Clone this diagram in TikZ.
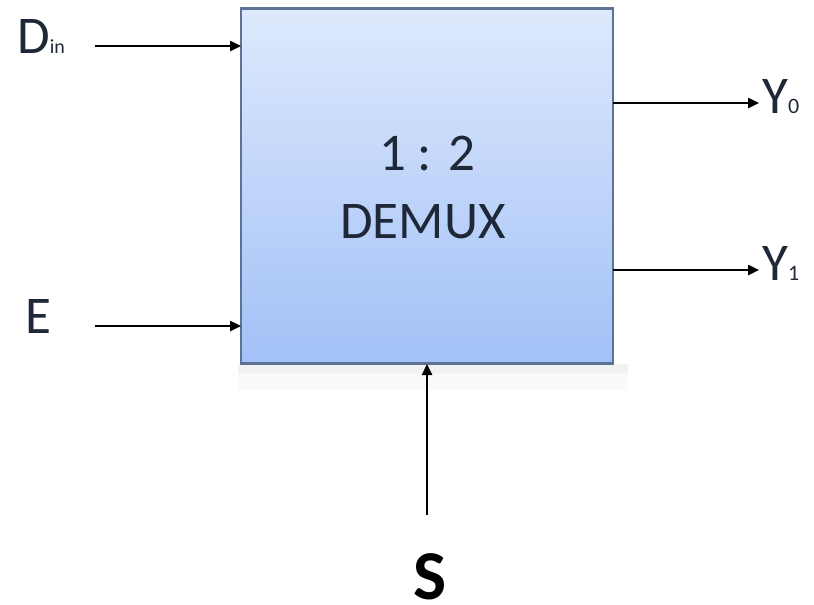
\documentclass[tikz,border=0pt]{standalone}
\usepackage{fontspec}
\setmainfont{Carlito}
\usetikzlibrary{arrows.meta}
\definecolor{boxtop}{HTML}{DEE9FC}
\definecolor{boxbot}{HTML}{A2C1F7}
\definecolor{boxline}{HTML}{5C7396}
\definecolor{txt}{HTML}{1E2838}
\tikzset{
  sig/.style={line width=2.4pt, -{Triangle[length=11pt,width=10pt]}},
  lbl/.style={inner sep=0pt, anchor=base west, text=txt, font=\fontsize{53}{60}\selectfont},
  inner/.style={inner sep=0pt, anchor=base, text=txt, font=\fontsize{53}{60}\selectfont},
}
\begin{document}
\begin{tikzpicture}[x=1pt,y=-1pt]
  \useasboundingbox (0,0) rectangle (814,605);
  % faint shadow under the block
  \fill[black!5] (238,364) rectangle (628,374);
  \fill[black!2] (238,374) rectangle (628,390);
  % the demultiplexer block
  \node[draw=boxline, line width=2.2pt, top color=boxtop, bottom color=boxbot,
        minimum width=372pt, minimum height=355pt, inner sep=0pt]
        (dmx) at (427,186) {};
  \node[inner] (ratio) at (427,170) {1 : 2};
  \node[inner] (name) at (423,238) {DEMUX};
  % input labels
  \node[lbl] (din) at (17,53) {D\raisebox{0pt}{\fontsize{20}{20}\selectfont in}};
  \node[lbl] (en) at (25,333) {E};
  % output labels
  \node[lbl] (y0) at (762,113) {Y\raisebox{0pt}{\fontsize{22}{22}\selectfont 0}};
  \node[lbl] (y1) at (762,280) {Y\raisebox{0pt}{\fontsize{22}{22}\selectfont 1}};
  % select label
  \node[inner sep=1pt, anchor=south, text depth=0pt, text=black,
        font=\bfseries\fontsize{70}{76}\selectfont] (sel) at (430,601) {S};
  % connector end points
  \coordinate (dinA) at (95,46);
  \coordinate (dinB) at (241,46);
  \coordinate (enA) at (95,326);
  \coordinate (enB) at (241,326);
  \coordinate (y0A) at (613,103);
  \coordinate (y0B) at (759,103);
  \coordinate (y1A) at (613,270);
  \coordinate (y1B) at (759,270);
  \coordinate (sA) at (427,515);
  \coordinate (sB) at (427,364);
  \draw[sig] (dinA) -- (dinB);
  \draw[sig] (enA) -- (enB);
  \draw[sig] (y0A) -- (y0B);
  \draw[sig] (y1A) -- (y1B);
  \draw[sig] (sA) -- (sB);
\end{tikzpicture}
\end{document}
